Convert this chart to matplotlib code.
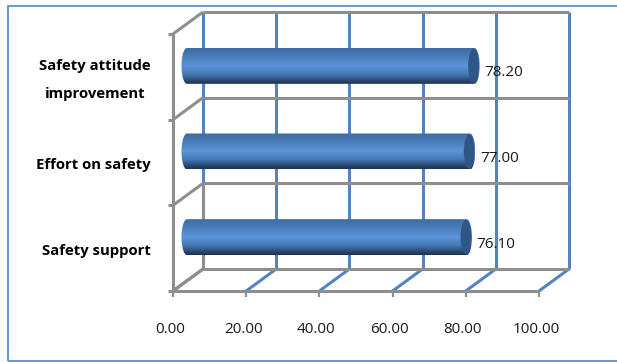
import numpy as np
import matplotlib
matplotlib.use("Agg")
import matplotlib.pyplot as plt
from matplotlib.colors import LinearSegmentedColormap
from matplotlib.patches import Ellipse, Polygon, Rectangle

categories = ["Safety support", "Effort on safety", "Safety attitude\nimprovement"]
values = [76.10, 77.00, 78.20]
ticks = [0, 20, 40, 60, 80, 100]

W, H = 617, 362
PX_X = 3.66      # pixels per value unit
PX_Y = 85.67     # pixels per category
ORIGIN_X, FLOOR_Y = 173, 291
DEPTH_X = 30 / PX_X
DEPTH_Y = 22 / PX_Y
BAR_H = 36 / PX_Y
CAP_RX = 5.5 / PX_X

BLUE = "#5384bf"
GRAY = "#8e8e8e"
LW = 2.2

plt.rcParams["font.family"] = ["Open Sans", "DejaVu Sans"]

fig = plt.figure(figsize=(W / 100, H / 100), dpi=100, facecolor="white")
ax = fig.add_axes([0, 0, 1, 1])
ax.axis("off")

# outer chart frame, open past the right-hand edge
fig.add_artist(Rectangle((7.5 / W, 1 - 360.5 / H), 1, 355 / H, transform=fig.transFigure,
                         fill=False, edgecolor="#5f8fc8", linewidth=1.3))

y0, y1 = -0.5, len(categories) - 0.5
line = dict(solid_capstyle="butt", lw=LW)

# value gridlines: back wall and floor
for t in ticks:
    ax.plot([t + DEPTH_X] * 2, [y0 + DEPTH_Y, y1 + DEPTH_Y], color=BLUE, zorder=1, **line)
    ax.plot([t, t + DEPTH_X], [y0, y0 + DEPTH_Y], color=BLUE, zorder=1, **line)
ax.plot([DEPTH_X] * 2, [y0 + DEPTH_Y, 1 + DEPTH_Y - 0.5], color=GRAY, zorder=1.5, **line)

# category gridlines: back wall and left wall
for k in range(len(categories) + 1):
    y = y0 + k
    ax.plot([DEPTH_X, 100 + DEPTH_X], [y + DEPTH_Y] * 2, color=GRAY, zorder=2, **line)
    ax.plot([0, DEPTH_X], [y, y + DEPTH_Y], color=GRAY, zorder=2, **line)
    ax.plot([-5 / PX_X, 0], [y, y], color=GRAY, zorder=3, **line)

# front axes and ticks
ax.plot([0, 0], [y0, y1], color=GRAY, zorder=3, **line)
ax.plot([0, 100], [y0, y0], color=GRAY, zorder=3, **line)
for t in ticks:
    ax.plot([t, t], [y0, y0 - 6 / PX_Y], color=GRAY, zorder=3, lw=1.6, solid_capstyle="butt")

# cylinder bars shaded from top to bottom
shade = LinearSegmentedColormap.from_list(
    "cyl", [(0, "#3f6da3"), (0.12, "#4274ae"), (0.5, "#5b94d8"), (0.74, "#4478b4"),
            (0.9, "#2a4a70"), (1, "#1d3350")])
grad = np.linspace(0, 1, 128).reshape(-1, 1)
for i, v in enumerate(values):
    xl, xr = DEPTH_X / 2 - 1 / PX_X, v + DEPTH_X / 2
    yc = i + DEPTH_Y / 2
    top, bot = yc + BAR_H / 2, yc - BAR_H / 2
    t = np.linspace(-np.pi / 2, np.pi / 2, 40)
    xs = np.r_[xr + CAP_RX * np.cos(t), xl - CAP_RX * np.cos(t[::-1])]
    ys = np.r_[yc + BAR_H / 2 * np.sin(t), yc + BAR_H / 2 * np.sin(t[::-1])]
    body = Polygon(np.c_[xs, ys], closed=True, transform=ax.transData, facecolor="none", edgecolor="none")
    ax.add_patch(body)
    im = ax.imshow(grad, extent=[xl - CAP_RX, xr + CAP_RX, bot, top], origin="upper",
                   cmap=shade, aspect="auto", zorder=4, interpolation="bilinear")
    im.set_clip_path(body)
    ax.add_patch(Ellipse((xr - 0.6 / PX_X, yc), 2 * CAP_RX * 0.98, BAR_H * 0.95,
                         facecolor="#2f5687", edgecolor="none", zorder=5))
    ax.annotate(f"{v:.2f}", (xr, yc), xytext=(10 * 0.72, -7 * 0.72), textcoords="offset points",
                ha="left", va="center", fontsize=11, color="#1a1a1a", zorder=6)

# axis labels
for t in ticks:
    ax.annotate(f"{t:.2f}", (t, y0), xytext=(-3 * 0.72, -38.5 * 0.72), textcoords="offset points",
                ha="center", va="center", fontsize=11, color="#1a1a1a")
label_x = [151, 151, 151]
for i, c in enumerate(categories):
    ax.annotate(c, (0, i), xytext=((label_x[i] - ORIGIN_X) * 0.72, -3 * 0.72),
                textcoords="offset points", ha="right", va="center", fontsize=10.7,
                fontweight="bold", color="black", multialignment="center", linespacing=2.25)

ax.set_xlim(-ORIGIN_X / PX_X, (W - ORIGIN_X) / PX_X)
ax.set_ylim(-0.5 - (H - FLOOR_Y) / PX_Y, -0.5 + FLOOR_Y / PX_Y)
fig.savefig("out.png", dpi=100)
